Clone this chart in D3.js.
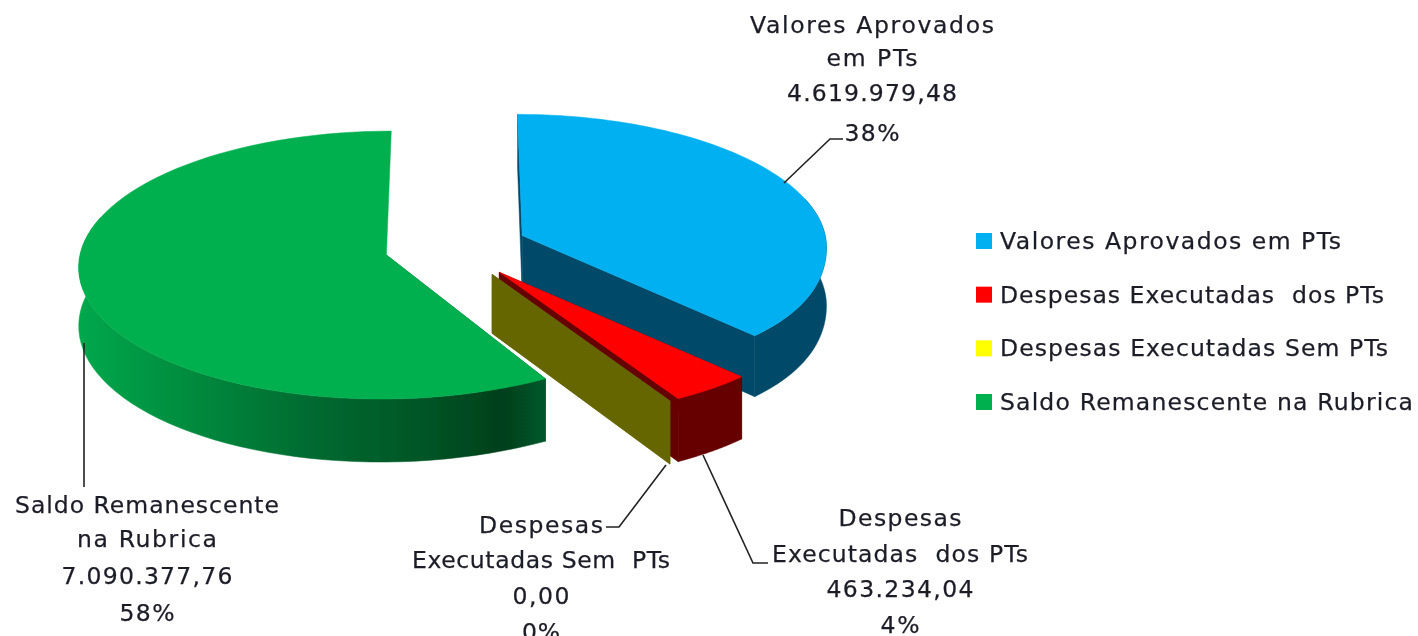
<!DOCTYPE html>
<html><head><meta charset="utf-8">
<script src="https://cdn.jsdelivr.net/npm/d3@7"></script>
<style>html,body{margin:0;background:#fff}svg{display:block}text{font-family:"DejaVu Sans",sans-serif;font-size:23.5px;fill:#1c1c28;stroke:#1c1c28;stroke-width:0.25px}</style>
</head><body><svg id="c" width="1418" height="636"></svg>
<script>
const categories=["Valores Aprovados em PTs","Despesas Executadas  dos PTs","Despesas Executadas Sem PTs","Saldo Remanescente na Rubrica"];
const values=[4619979.48,463234.04,0,7090377.76];
const topColors=["#00B0F0","#FF0000","#FFFF00","#00B050"];
const sideColors=["#004a68","#660000","#666600","#004f22"];
const labelLines=[["Valores Aprovados","em PTs"],["Despesas","Executadas  dos PTs"],["Despesas","Executadas Sem  PTs"],["Saldo Remanescente","na Rubrica"]];

const W=1418,H=636;
const view={X0:456,Y0:247,Rx:305,Ry:132,k:0.075,q:26,h:58,explode:0.235};
const loc=d3.formatLocale({decimal:",",thousands:".",grouping:[3],currency:["",""]});
const fmtV=loc.format(",.2f"),fmtP=d3.format(".0%");
const svg=d3.select("#c");
const defs=svg.append("defs");
defs.append("filter").attr("id","soft").attr("filterUnits","userSpaceOnUse").attr("x",0).attr("y",0).attr("width",W).attr("height",H)
  .append("feGaussianBlur").attr("stdDeviation",0.6);
const g=svg.append("g").attr("filter","url(#soft)");
const grad=defs.append("linearGradient").attr("id","gw").attr("gradientUnits","userSpaceOnUse")
  .attr("x1",78).attr("x2",541).attr("y1",0).attr("y2",0);
[[0,"#00a84c"],[0.25,"#008a3e"],[0.5,"#006b30"],[0.75,"#005526"],[0.92,"#003f1b"],[1,"#00562a"]].forEach(s=>grad.append("stop").attr("offset",s[0]).attr("stop-color",s[1]));

const pie=d3.pie().sort(null).value(d=>d);
const arcs=pie(values);
const total=d3.sum(values);
const project=(X,Z,down)=>{const s=1/(1+view.k*Z);
  return [view.X0+view.Rx*X*s+view.q*Math.max(X,0)**2*Math.max(-Z,0)**2,view.Y0-view.Ry*Z*s+(down?view.h*s:0)];};
const line=d3.line();
arcs.forEach((a,i)=>{
  const mid=(a.startAngle+a.endAngle)/2;
  const ox=view.explode*Math.sin(mid),oz=view.explode*Math.cos(mid);
  const steps=d3.range(0,81).map(t=>a.startAngle+(a.endAngle-a.startAngle)*t/80);
  const rim=steps.map(t=>[ox+Math.sin(t),oz+Math.cos(t)]);
  const P=(p,d)=>project(p[0],p[1],d);
  const c=[ox,oz];
  const rimTop=rim.map(p=>P(p,false));
  const front=steps.filter(t=>Math.cos(t)<0.3).map(t=>[ox+Math.sin(t),oz+Math.cos(t)]);
  const side=sideColors[i];
  const poly=(pts,fill)=>g.append("path").attr("d",line(pts)+"Z").attr("fill",fill).attr("stroke",fill).attr("stroke-width",0.5);
  poly([P(c,false),rimTop[0],P(rim[0],true),P(c,true)],side);
  if(i!==3) poly([P(c,false),rimTop[80],P(rim[80],true),P(c,true)],side);
  if(values[i]>0){
    poly(front.map(p=>P(p,false)).concat(front.map(p=>P(p,true)).reverse()),i===3?"url(#gw)":side);
    poly([P(c,false)].concat(rimTop),topColors[i]);
  }
});

const leaders=[[[784,183],[830,139],[843,139]],[[703,455],[753,563],[768,563]],[[666,465],[619,527],[606,527]],[[84,343],[84,487]]];
leaders.forEach(l=>g.append("path").attr("d",line(l)).attr("fill","none").attr("stroke","#222").attr("stroke-width",1.6));

const labelPos=[{x:872,y:[33,66,101,141],w:[244,91,170,55]},{x:900,y:[526,562,597,633],w:[123,256,147,39]},{x:541,y:[533,568,604,640],w:[124,258,57,38]},{x:147,y:[513,547,584,621],w:[264,140,171,55]}];
arcs.forEach((a,i)=>{
  const lines=labelLines[i].concat([fmtV(values[i]),fmtP(values[i]/total)]);
  lines.forEach((t,j)=>g.append("text").attr("x",labelPos[i].x).attr("y",labelPos[i].y[j]).attr("text-anchor","middle").attr("textLength",labelPos[i].w[j]).attr("lengthAdjust","spacing").style("white-space","pre").text(t));
});
const legY=d3.scalePoint().domain(categories).range([241,402]);
const legW=[341,384,388,413];
categories.forEach((c,i)=>{
  g.append("rect").attr("x",976).attr("y",legY(c)-8).attr("width",16).attr("height",16).attr("fill",topColors[i]);
  g.append("text").attr("x",1000).attr("y",legY(c)+8).attr("textLength",legW[i]).attr("lengthAdjust","spacing").style("white-space","pre").text(c);
});
</script></body></html>
